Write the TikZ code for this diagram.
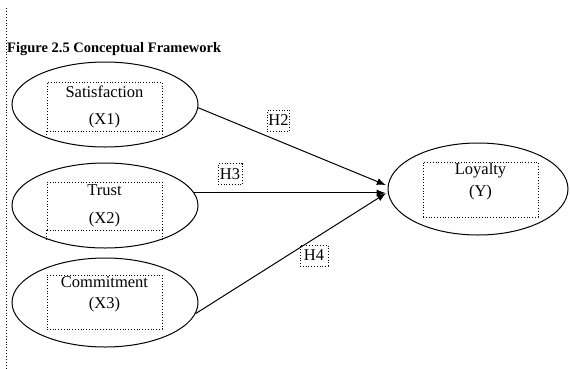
\documentclass[tikz,border=0pt]{standalone}
\usepackage{fontspec}
\setmainfont{Liberation Serif}
\usetikzlibrary{arrows.meta,shapes.geometric}
\begin{document}
\begin{tikzpicture}[
       x=1pt,y=-1pt,
       font=\fontsize{16.5}{18}\selectfont,
       construct/.style={
         ellipse,
         draw,
         line width=1pt,
         inner sep=0pt
       },
       dotbox/.style={
         rectangle,
         draw,
         dotted,
         line width=0.8pt,
         minimum width=115,
         inner sep=0pt
       },
       hypo/.style={
         rectangle,
         draw,
         dotted,
         line width=0.8pt,
         minimum width=21,
         minimum height=21,
         inner sep=1pt
       },
       link/.style={
         line width=1pt,
         -{Latex[length=9pt,width=7pt]},
         shorten >=2pt
       }
     ]
       \useasboundingbox (0,0) rectangle (570,368);

       \coordinate (top) at (6.5,8);
       \coordinate (bot) at (6.5,368);
       \draw[dotted,line width=0.9pt] (top) -- (bot);
       \node (title) at (7,52) [anchor=base west,inner sep=0pt,font=\fontsize{14.5}{16}\selectfont\bfseries]{Figure 2.5 Conceptual Framework};

       \node (e1) at (105,104.5) [construct,minimum width=186,minimum height=85]{};
       \node (e2) at (105,205.5) [construct,minimum width=186,minimum height=85]{};
       \node (e3) at (105,302.5) [construct,minimum width=186,minimum height=89]{};
       \node (y) at (478,189) [construct,minimum width=180,minimum height=92]{};

       \node (b1) at (104.5,106.5) [dotbox,minimum height=49]{};
       \node (b2) at (104.5,206) [dotbox,minimum height=48]{};
       \node (b3) at (104.5,302) [dotbox,minimum height=54]{};
       \node (by) at (480.5,189.5) [dotbox,minimum height=55]{};

       \draw[dotted,line width=0.8pt] (b1.south west) -- ++(0,8);
       \draw[dotted,line width=0.8pt] (b1.south east) -- ++(0,8);
       \draw[dotted,line width=0.8pt] (b2.south west) -- ++(0,9);
       \draw[dotted,line width=0.8pt] (b2.south east) -- ++(0,9);

       \node (x1) at (104.5,106.5) [align=center,inner sep=0pt]{Satisfaction\\[9pt](X1)};
       \node (x2) at (104.5,206) [align=center,inner sep=0pt]{Trust\\[10pt](X2)};
       \node (x3) at (104.5,294.5) [align=center,inner sep=0pt]{Commitment\\[3pt](X3)};
       \node (yl) at (480.5,182) [align=center,inner sep=0pt]{Loyalty\\[4pt](Y)};

       \draw[link] (e1.-2) -- (y.178);
       \draw[link] (e2.8) -- (e2.8 -| y.west);
       \draw[link] (e3.-7) -- (y.182);

       \node (h2) at (278.5,120.5) [hypo]{H2};
       \node (h3) at (230,174) [hypo,minimum width=24]{H3};
       \node (h4) at (314,255.5) [hypo,minimum width=28]{H4};

\end{tikzpicture}
\end{document}
